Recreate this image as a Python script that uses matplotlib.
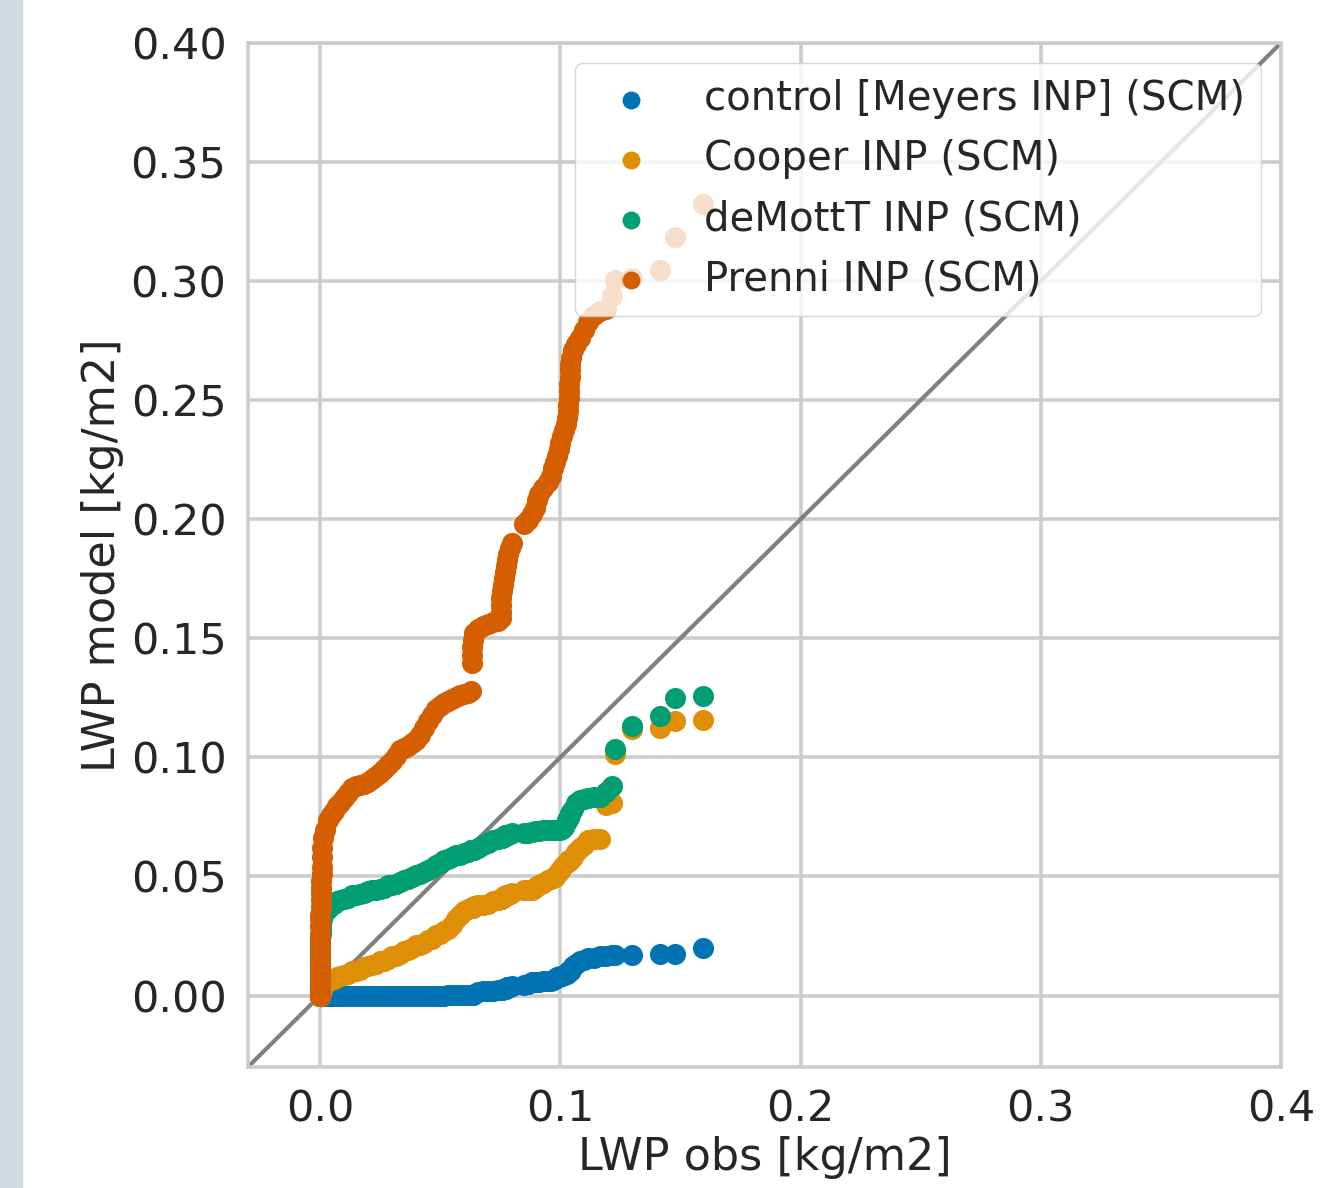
import matplotlib
matplotlib.use('Agg')
import matplotlib.pyplot as plt
from matplotlib.patches import Rectangle
import seaborn as sns

# sorted observed LWP (quantiles), shared by all runs
lwp_obs = [0.0, 0.0, 0.0, 0.0, 0.0, 0.0, 0.0, 0.0, 0.0, 0.0, 0.0, 0.0,
           0.0001, 0.0001, 0.0002, 0.0002, 0.0003, 0.0004, 0.0005, 0.0006, 0.0007, 0.0008, 0.001, 0.0012,
           0.0021, 0.0033, 0.0046, 0.0058, 0.0071, 0.0083, 0.0100, 0.0116, 0.0133, 0.0150,
           0.0166, 0.0183, 0.0200, 0.0216, 0.0233, 0.0250, 0.0266, 0.0283, 0.0299, 0.0316,
           0.0333, 0.0349, 0.0366, 0.0383, 0.0399, 0.0416, 0.0432, 0.0449, 0.0466, 0.0482,
           0.0499, 0.0516, 0.0532, 0.0549, 0.0566, 0.0582, 0.0599, 0.0615, 0.0628,
           0.0632, 0.0632, 0.0632, 0.0636, 0.0640, 0.0657, 0.0678, 0.0699, 0.0719, 0.0740,
           0.0753, 0.0753, 0.0753, 0.0753, 0.0757, 0.0761, 0.0765, 0.0769, 0.0773, 0.0778,
           0.0782, 0.0790, 0.0798, 0.0848, 0.0865, 0.0882, 0.0894, 0.0902, 0.0911, 0.0927,
           0.0948, 0.0960, 0.0969, 0.0977, 0.0985, 0.0994, 0.0998, 0.1006, 0.1015, 0.1023,
           0.1027, 0.1031, 0.1031, 0.1035, 0.1035, 0.1035, 0.1040, 0.1040, 0.1040, 0.1044,
           0.1052, 0.1064, 0.1081, 0.1098, 0.1114, 0.1139, 0.1164, 0.1189, 0.1214, 0.1227,
           0.1297, 0.1414, 0.1476, 0.1593]

# sorted model LWP for each INP parameterisation
lwp_meyers = [0.0, 0.0, 0.0, 0.0, 0.0, 0.0, 0.0, 0.0, 0.0, 0.0, 0.0, 0.0,
              0.0, 0.0, 0.0, 0.0, 0.0, 0.0, 0.0, 0.0, 0.0, 0.0, 0.0, 0.0,
              0.0, 0.0, 0.0, 0.0, 0.0, 0.0, 0.0, 0.0, 0.0, 0.0,
              0.0, 0.0, 0.0, 0.0, 0.0, 0.0, 0.0, 0.0, 0.0, 0.0,
              0.0, 0.0, 0.0, 0.0, 0.0, 0.0, 0.0, 0.0, 0.0, 0.0,
              0.0, 0.0, 0.0001, 0.0001, 0.0002, 0.0002, 0.0003, 0.0003, 0.0004,
              0.0004, 0.0004, 0.0004, 0.0004, 0.0008, 0.0013, 0.0017, 0.0021, 0.0021, 0.0025,
              0.0025, 0.0025, 0.0025, 0.0025, 0.0025, 0.0029, 0.0029, 0.0029, 0.0029, 0.0034,
              0.0034, 0.0034, 0.0038, 0.0046, 0.0050, 0.0055, 0.0055, 0.0055, 0.0055, 0.0059,
              0.0059, 0.0063, 0.0067, 0.0071, 0.0076, 0.0076, 0.0080, 0.0084, 0.0088, 0.0092,
              0.0092, 0.0097, 0.0097, 0.0101, 0.0101, 0.0101, 0.0101, 0.0101, 0.0101, 0.0109,
              0.0122, 0.0134, 0.0143, 0.0151, 0.0159, 0.0159, 0.0164, 0.0168, 0.0172, 0.0172,
              0.0172, 0.0176, 0.0176, 0.0201]

lwp_cooper = [0.0, 0.0, 0.0, 0.0, 0.0, 0.0, 0.0, 0.0, 0.0, 0.0002, 0.0004, 0.0006,
              0.0008, 0.001, 0.0012, 0.0015, 0.0018, 0.002, 0.0023, 0.0026, 0.003, 0.0034, 0.0038, 0.0042,
              0.0050, 0.0059, 0.0067, 0.0071, 0.0076, 0.0080, 0.0088, 0.0092, 0.0101, 0.0105,
              0.0109, 0.0118, 0.0122, 0.0130, 0.0134, 0.0143, 0.0147, 0.0155, 0.0164, 0.0168,
              0.0176, 0.0185, 0.0193, 0.0201, 0.0210, 0.0214, 0.0222, 0.0231, 0.0239, 0.0252,
              0.0260, 0.0269, 0.0281, 0.0298, 0.0323, 0.0340, 0.0353, 0.0365, 0.0369,
              0.0369, 0.0369, 0.0369, 0.0369, 0.0374, 0.0378, 0.0382, 0.0386, 0.0395, 0.0403,
              0.0407, 0.0407, 0.0407, 0.0407, 0.0411, 0.0411, 0.0416, 0.0416, 0.0420, 0.0420,
              0.0424, 0.0428, 0.0432, 0.0441, 0.0441, 0.0445, 0.0453, 0.0458, 0.0462, 0.0474,
              0.0487, 0.0491, 0.0495, 0.0499, 0.0512, 0.0520, 0.0529, 0.0537, 0.0550, 0.0558,
              0.0562, 0.0562, 0.0562, 0.0567, 0.0567, 0.0567, 0.0571, 0.0571, 0.0571, 0.0575,
              0.0583, 0.0604, 0.0621, 0.0634, 0.0651, 0.0659, 0.0659, 0.0802, 0.0810, 0.1016,
              0.1121, 0.1125, 0.1154, 0.1158]

lwp_demott = [0.0, 0.001, 0.002, 0.004, 0.006, 0.008, 0.010, 0.012, 0.014, 0.016, 0.018, 0.020,
              0.022, 0.024, 0.026, 0.027, 0.029, 0.030, 0.031, 0.032, 0.033, 0.033, 0.034, 0.034,
              0.0353, 0.0365, 0.0378, 0.0386, 0.0395, 0.0399, 0.0407, 0.0411, 0.0420, 0.0424,
              0.0428, 0.0432, 0.0437, 0.0441, 0.0445, 0.0449, 0.0453, 0.0462, 0.0466, 0.0470,
              0.0478, 0.0487, 0.0491, 0.0499, 0.0508, 0.0512, 0.0520, 0.0529, 0.0537, 0.0546,
              0.0558, 0.0567, 0.0575, 0.0583, 0.0588, 0.0592, 0.0600, 0.0604, 0.0609,
              0.0609, 0.0609, 0.0613, 0.0613, 0.0613, 0.0621, 0.0634, 0.0642, 0.0651, 0.0659,
              0.0663, 0.0663, 0.0663, 0.0663, 0.0663, 0.0667, 0.0667, 0.0672, 0.0672, 0.0676,
              0.0676, 0.0680, 0.0684, 0.0684, 0.0684, 0.0688, 0.0692, 0.0692, 0.0692, 0.0693,
              0.0697, 0.0697, 0.0697, 0.0697, 0.0697, 0.0697, 0.0697, 0.0701, 0.0709, 0.0726,
              0.0735, 0.0743, 0.0743, 0.0751, 0.0751, 0.0751, 0.0764, 0.0764, 0.0764, 0.0772,
              0.0785, 0.0810, 0.0823, 0.0827, 0.0831, 0.0835, 0.0835, 0.0856, 0.0881, 0.1037,
              0.1133, 0.1175, 0.1251, 0.1259]

lwp_prenni = [0.0, 0.002, 0.004, 0.007, 0.010, 0.012, 0.015, 0.018, 0.021, 0.023, 0.026, 0.029,
              0.032, 0.034, 0.037, 0.040, 0.043, 0.045, 0.048, 0.051, 0.054, 0.058, 0.062, 0.066,
              0.0697, 0.0739, 0.0760, 0.0776, 0.0797, 0.0810, 0.0831, 0.0852, 0.0873, 0.0881,
              0.0886, 0.0890, 0.0898, 0.0911, 0.0923, 0.0936, 0.0953, 0.0970, 0.0986, 0.1007,
              0.1033, 0.1041, 0.1049, 0.1062, 0.1075, 0.1096, 0.1125, 0.1154, 0.1179, 0.1205,
              0.1217, 0.1230, 0.1238, 0.1247, 0.1255, 0.1263, 0.1268, 0.1272, 0.1280,
              0.1398, 0.1431, 0.1465, 0.1494, 0.1524, 0.1540, 0.1553, 0.1561, 0.1570, 0.1574,
              0.1587, 0.1612, 0.1641, 0.1671, 0.1700, 0.1725, 0.1754, 0.1780, 0.1805, 0.1830,
              0.1855, 0.1880, 0.1901, 0.1981, 0.1998, 0.2023, 0.2048, 0.2082, 0.2107, 0.2132,
              0.2157, 0.2183, 0.2216, 0.2241, 0.2267, 0.2296, 0.2321, 0.2350, 0.2376, 0.2401,
              0.2426, 0.2455, 0.2481, 0.2510, 0.2539, 0.2569, 0.2598, 0.2627, 0.2653, 0.2678,
              0.2711, 0.2737, 0.2762, 0.2795, 0.2829, 0.2858, 0.2875, 0.2884, 0.2938, 0.3005,
              0.3014, 0.3047, 0.3186, 0.3324]

runs = [('control [Meyers INP] (SCM)', lwp_meyers),
        ('Cooper INP (SCM)', lwp_cooper),
        ('deMottT INP (SCM)', lwp_demott),
        ('Prenni INP (SCM)', lwp_prenni)]

sns.set_style('whitegrid')
farben = sns.color_palette('colorblind')

fig = plt.figure(figsize=(13.27, 11.88), dpi=100)
ax = fig.add_axes([0.1869, 0.1019, 0.7784, 0.8619])

# grauer Rand links (vom Screenshot)
fig.patches.append(Rectangle((0, 0), 22 / 1327, 1, transform=fig.transFigure,
                             color='#d1d9e1', zorder=0))

ax.plot([-0.03, 0.4], [-0.03, 0.4], color='gray', lw=3, zorder=1)

for i, (name, werte) in enumerate(runs):
    ax.scatter(lwp_obs, werte, s=230, color=farben[i], linewidths=0, label=name, zorder=2)

ax.set_xlim(-0.03, 0.4)
ax.set_ylim(-0.03, 0.4)
ax.set_xticks([0.0, 0.1, 0.2, 0.3, 0.4])
ax.set_yticks([0.0, 0.05, 0.1, 0.15, 0.2, 0.25, 0.3, 0.35, 0.4])
ax.set_yticklabels(['0.00', '0.05', '0.10', '0.15', '0.20', '0.25', '0.30', '0.35', '0.40'])
ax.tick_params(labelsize=31, colors='#262626', pad=12)
ax.set_xlabel('LWP obs [kg/m2]', fontsize=32, color='#262626', labelpad=4)
ax.set_ylabel('LWP model [kg/m2]', fontsize=32, color='#262626', labelpad=5)
ax.grid(True, color='#cccccc', lw=2.6)
for sp in ax.spines.values():
    sp.set_color('#cccccc')
    sp.set_linewidth(2.6)

leg = ax.legend(loc='upper right', fontsize=29, framealpha=0.8, markerscale=0.85)
for t in leg.get_texts():
    t.set_color('#262626')

fig.savefig('out.png', dpi=100)
